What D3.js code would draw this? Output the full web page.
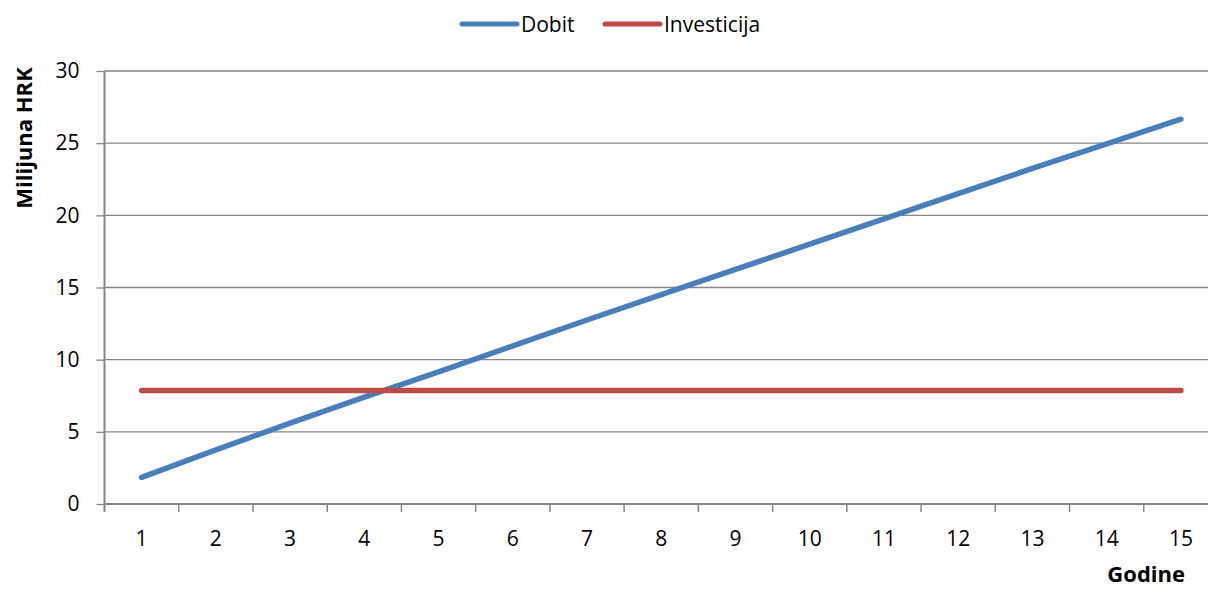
<!DOCTYPE html>
<html>
<head>
<meta charset="utf-8">
<script src="https://cdn.jsdelivr.net/npm/d3@7"></script>
<style>
  body { margin: 0; background: #fff; }
  text { font-family: "Open Sans", sans-serif; fill: #000; }
</style>
</head>
<body>
<div class="chart"></div>
<script>
// data
const years = ["1","2","3","4","5","6","7","8","9","10","11","12","13","14","15"];
const dobit = [1.85, 3.75, 5.6, 7.4, 9.15, 10.95, 12.75, 14.5, 16.25, 18.0, 19.75, 21.5, 23.25, 24.95, 26.66];
const investicija = [7.87, 7.87, 7.87, 7.87, 7.87, 7.87, 7.87, 7.87, 7.87, 7.87, 7.87, 7.87, 7.87, 7.87, 7.87];
const yTicks = [0, 5, 10, 15, 20, 25, 30];
const seriesNames = ["Dobit", "Investicija"];
const seriesColors = ["#4A7EBB", "#BE4B48"];

svgwidth = 1208;
svgheight = 589;
plot = {left: 104.5, right: 1218, top: 71, bottom: 504};
gridColor = "#868686";

svg = d3.select(".chart")
    .append("svg")
    .attr("width", svgwidth)
    .attr("height", svgheight);

posX = d3.scaleBand()
    .domain(years)
    .range([plot.left, plot.right]);
posY = d3.scaleLinear()
    .domain([0, 30])
    .range([plot.bottom, plot.top]);

// horizontal gridlines
svg.append("g")
    .selectAll("line")
    .data(yTicks.filter(d => d > 0))
    .enter()
    .append("line")
        .attr("x1", plot.left)
        .attr("x2", plot.right)
        .attr("y1", d => posY(d))
        .attr("y2", d => posY(d))
        .attr("stroke", gridColor)
        .attr("stroke-width", 1.3);

// y axis
yAxis = svg.append("g")
    .attr("transform", "translate(" + plot.left + ",0)")
    .call(d3.axisLeft(posY).tickValues(yTicks).tickSize(8).tickPadding(17));
yAxis.select(".domain").remove();
yAxis.selectAll(".tick line").attr("stroke", gridColor).attr("stroke-width", 1.3);
yAxis.selectAll("text").attr("font-size", "21px").attr("font-family", "Open Sans, sans-serif");
yAxis.append("line")
    .attr("x1", 0).attr("x2", 0)
    .attr("y1", plot.top).attr("y2", plot.bottom + 8)
    .attr("stroke", gridColor).attr("stroke-width", 2);

// x axis
xAxis = svg.append("g")
    .attr("transform", "translate(0," + plot.bottom + ")")
    .call(d3.axisBottom(posX).tickSize(0).tickPadding(27));
xAxis.select(".domain").remove();
xAxis.selectAll("text").attr("font-size", "21px").attr("font-family", "Open Sans, sans-serif");
xAxis.append("line")
    .attr("x1", plot.left).attr("x2", plot.right)
    .attr("y1", 0).attr("y2", 0)
    .attr("stroke", gridColor).attr("stroke-width", 2);
// tick marks between categories
xAxis.selectAll(".bound")
    .data(years.slice(1))
    .enter()
    .append("line")
        .attr("class", "bound")
        .attr("x1", d => posX(d))
        .attr("x2", d => posX(d))
        .attr("y1", 0)
        .attr("y2", 8)
        .attr("stroke", gridColor)
        .attr("stroke-width", 1.5);

// lines
line = d3.line()
    .x((d, i) => posX(years[i]) + posX.bandwidth() / 2)
    .y(d => posY(d));

[dobit, investicija].forEach(function(values, k) {
    svg.append("path")
        .datum(values)
        .attr("d", line)
        .attr("fill", "none")
        .attr("stroke", seriesColors[k])
        .attr("stroke-width", 5.5)
        .attr("stroke-linecap", "round")
        .attr("stroke-linejoin", "round");
});

// axis titles
svg.append("text")
    .attr("transform", "translate(32,138) rotate(-90)")
    .attr("text-anchor", "middle")
    .attr("font-weight", "bold")
    .attr("font-size", "22px")
    .text("Milijuna HRK");

svg.append("text")
    .attr("x", 1185)
    .attr("y", 582)
    .attr("text-anchor", "end")
    .attr("font-weight", "bold")
    .attr("font-size", "22px")
    .text("Godine");

// legend
legendX = [462, 605];
legend = svg.append("g");
seriesNames.forEach(function(name, k) {
    legend.append("line")
        .attr("x1", legendX[k]).attr("x2", legendX[k] + 55)
        .attr("y1", 24).attr("y2", 24)
        .attr("stroke", seriesColors[k])
        .attr("stroke-width", 5)
        .attr("stroke-linecap", "round");
    legend.append("text")
        .attr("x", legendX[k] + 59)
        .attr("y", 32)
        .attr("font-size", "21px")
        .text(name);
});
</script>
</body>
</html>
